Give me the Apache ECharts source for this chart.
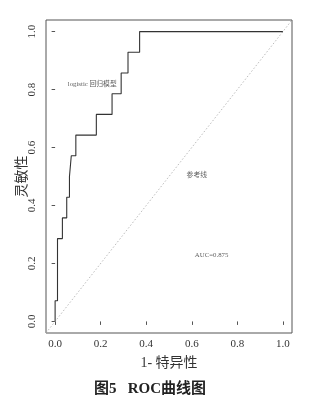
<!DOCTYPE html>
<html><head><meta charset="utf-8">
<script src="https://cdn.jsdelivr.net/npm/echarts@6/dist/echarts.min.js"></script>
<style>html,body{margin:0;padding:0;background:#fff}#c{width:326px;height:403px}</style>
</head><body><div id="c"></div>
<script>
// ROC curve corner points (1 - specificity, sensitivity)
var fpr = [0, 0, 0.0105, 0.032, 0.051, 0.063, 0.071, 0.091, 0.181, 0.25, 0.29, 0.32, 0.371, 1.0];
var tpr = [0, 0.0714, 0.2857, 0.3571, 0.4286, 0.5, 0.5714, 0.6429, 0.7143, 0.7857, 0.8571, 0.9286, 1.0, 1.0];
// reference line y = x
var refX = [-0.04, 1.04];
var refY = [-0.04, 1.04];
var tickValues = [0, 0.2, 0.4, 0.6, 0.8, 1.0];
var annoText = ['logistic 回归模型', '参考线', 'AUC=0.875'];
var annoX = [0.163, 0.622, 0.687];
var annoY = [0.82, 0.504, 0.228];
var xName = '1- 特异性';
var yName = '灵敏性';
var caption = '图5\u2002 ROC曲线图';

var serif = '"Liberation Serif","Noto Sans CJK SC",serif';
var chart = echarts.init(document.getElementById('c'), null, {renderer: 'canvas'});
var rocData = fpr.map(function (x, i) { return [x, tpr[i]]; });
var refData = refX.map(function (x, i) { return [x, refY[i]]; });
var annoData = annoText.map(function (t, i) { return {value: [annoX[i], annoY[i]], name: t}; });

function axisCommon(isY) {
  return {
    type: 'value', min: -0.04, max: 1.04,
    splitLine: {show: false},
    axisLine: {show: false},
    axisTick: {show: true, inside: false, length: 3.5, customValues: tickValues,
      lineStyle: {color: '#555', width: 1}},
    axisLabel: {show: true, customValues: tickValues, margin: isY ? 8 : 6,
      rotate: isY ? 90 : 0,
      fontFamily: serif, fontSize: 11, color: '#333',
      formatter: function (v) { return v.toFixed(1); }},
    nameLocation: 'middle',
    nameMoveOverlap: false,
    nameTextStyle: {fontFamily: serif, fontSize: 14, color: '#333'}
  };
}
var xa = axisCommon(false); xa.name = xName; xa.nameGap = 23;
var ya = axisCommon(true); ya.name = yName; ya.nameGap = 17;

chart.setOption({
  animation: false,
  grid: {left: 46, right: 34, top: 20, bottom: 70, show: true,
    borderColor: '#555', borderWidth: 1, backgroundColor: 'transparent'},
  xAxis: xa,
  yAxis: ya,
  series: [
    {type: 'line', data: refData, symbol: 'none', silent: true,
      lineStyle: {color: '#aaa', width: 0.8, type: [1.5, 2]}},
    {type: 'line', data: rocData, step: 'end', symbol: 'none',
      lineStyle: {color: '#333', width: 1.1}},
    {type: 'scatter', data: annoData, symbolSize: 0, silent: true,
      label: {show: true, position: 'inside', formatter: '{b}',
        fontFamily: serif, fontSize: 6.8, color: '#333'}}
  ],
  graphic: [{type: 'text', left: 94, top: 382,
    style: {text: caption, fontFamily: serif, fontSize: 15, fontWeight: 'bold', fill: '#222'}}]
});
</script></body></html>
